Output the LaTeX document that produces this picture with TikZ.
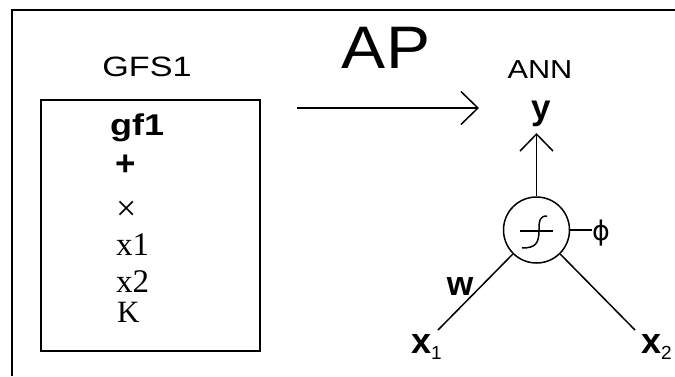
\documentclass[tikz,border=0pt]{standalone}
\usepackage{fontspec}
\usepackage{graphicx}
\setmainfont{Liberation Sans}
\newfontfamily\serifface{Liberation Serif}
\newfontfamily\symface{DejaVu Sans}
\usetikzlibrary{arrows.meta}
\tikzset{
  lbl/.style={inner sep=0pt, anchor=base},
  item/.style={inner sep=0pt, anchor=base west},
  wire/.style={line width=1.5pt},
  frameline/.style={line width=2pt},
  barb/.style={-{Straight Barb[length=17pt,width=33pt,line width=1.5pt]}},
}
\newcommand{\fs}[1]{\fontsize{#1}{#1}\selectfont}
\begin{document}
\begin{tikzpicture}[x=1pt,y=-1pt]
  \useasboundingbox (0,0) rectangle (675,376);
  % outer frame (left and top edges)
  \draw[frameline] (12,376) -- (12,10) -- (675,10);

  % headings
  \node[lbl] (gfs) at (147,76) {\fs{28}\scalebox{1.22}[1]{GFS1}};
  \node[lbl] (ap)  at (386,68) {\fs{60}\scalebox{1.1}[1]{AP}};
  \node[lbl] (ann) at (540,78) {\fs{26}\scalebox{1.18}[1]{ANN}};

  % primitive set box
  \node[draw, line width=1.8pt, anchor=north west, minimum width=219pt,
        minimum height=251pt, inner sep=0pt] (gfsbox) at (40,99) {};
  \node[item] (i1) at (110,135) {\fs{30}\bfseries\scalebox{1.2}[1]{gf1}};
  \node[item] (i2) at (115,175) {\fs{35}\bfseries +};
  \node[item] (i3) at (116,220) {\fs{36}\serifface ×};
  \node[item] (i4) at (116,255) {\fs{33}\serifface x1};
  \node[item] (i5) at (116,292) {\fs{33}\serifface x2};
  \node[item] (i6) at (117,322) {\fs{31}\serifface K};

  % mapping arrow
  \coordinate (a0) at (297,108);
  \coordinate (a1) at (479,108);
  \draw[wire, barb] (a0) -- (a1);

  % neuron
  \node[draw, circle, wire, minimum size=66pt, inner sep=0pt] (n) at (536.5,230) {};
  \draw[wire] (520,231) -- (553,231);
  \draw[wire] (547,216) .. controls (540,216) and (539,220) .. (539,230)
              .. controls (539,243) and (536,248) .. (522,248);

  % output
  \coordinate (ytip) at (536.5,133);
  \draw[wire, barb] (n) -- (ytip);
  \node[lbl] (y) at (541,119) {\fs{35}\bfseries y};

  % threshold
  \coordinate (phiend) at (592,230);
  \draw[wire] (n.east) -- (phiend);
  \node[lbl] (phi) at (601,240) {\fs{27}\symface ϕ};

  % inputs
  \coordinate (e1) at (438,330);
  \coordinate (e2) at (635,330);
  \draw[wire] (n) -- (e1);
  \draw[wire] (n) -- (e2);
  \node[lbl] (w) at (460,295) {\fs{34}\bfseries w};
  \node[item] (x1) at (411,353) {\fs{36}\bfseries x\fs{19}\mdseries\raisebox{-6pt}{1}};
  \node[item] (x2) at (641,353) {\fs{36}\bfseries x\fs{19}\mdseries\raisebox{-6pt}{2}};
\end{tikzpicture}
\end{document}
